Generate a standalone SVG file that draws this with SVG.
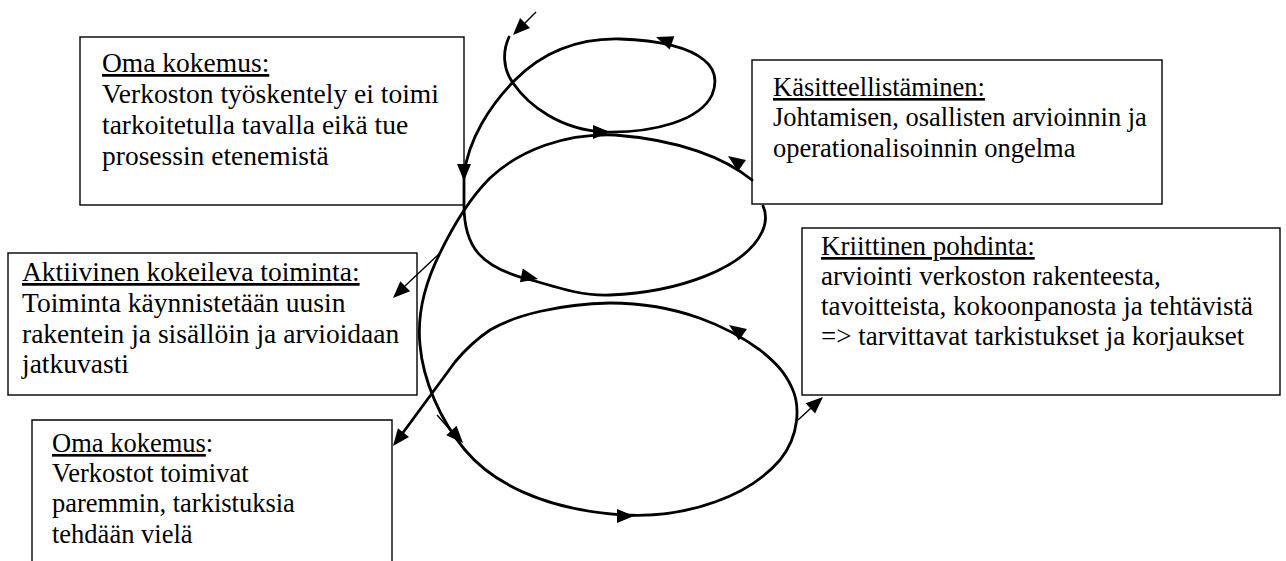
<svg xmlns="http://www.w3.org/2000/svg" width="1286" height="561" viewBox="0 0 1286 561">
<style>
.box{fill:#fff;stroke:#000;stroke-width:1.4}
.t{font-family:"Liberation Serif","Times New Roman",serif;font-size:26.5px;fill:#000}
.big{font-size:27.5px}
.mid{font-size:27px}
.u{text-decoration:underline}
.sp{fill:none;stroke:#000;stroke-width:2.8;stroke-linecap:round;stroke-linejoin:round}
.thin{fill:none;stroke:#000;stroke-width:1.4}
</style>
<defs>
<path id="ah" d="M0,0 L-17,-7 L-17,7 Z" fill="#000"/>
</defs>
<rect width="1286" height="561" fill="#fff"/>
<g id="n1">
<rect class="box" x="80" y="37" width="384" height="168"/>
<text class="t big" x="102" y="72"><tspan class="u">Oma kokemus:</tspan></text>
<text class="t big" x="102" y="103">Verkoston työskentely ei toimi</text>
<text class="t big" x="102" y="134">tarkoitetulla tavalla eikä tue</text>
<text class="t big" x="102" y="165">prosessin etenemistä</text>
</g>
<g id="n2">
<rect class="box" x="752" y="60" width="410" height="144"/>
<text class="t" x="773" y="96"><tspan class="u">Käsitteellistäminen:</tspan></text>
<text class="t" x="773" y="126">Johtamisen, osallisten arvioinnin ja</text>
<text class="t" x="773" y="157">operationalisoinnin ongelma</text>
</g>
<g id="n3">
<rect class="box" x="8" y="253" width="409" height="142"/>
<text class="t big" x="22" y="281"><tspan class="u">Aktiivinen kokeileva toiminta:</tspan></text>
<text class="t big" x="22" y="312">Toiminta käynnistetään uusin</text>
<text class="t big" x="22" y="343">rakentein ja sisällöin ja arvioidaan</text>
<text class="t big" x="22" y="373">jatkuvasti</text>
</g>
<g id="n4">
<path class="box" d="M32,561 V420 H392 V561"/>
<text class="t" x="52" y="452"><tspan class="u">Oma kokemus</tspan>:</text>
<text class="t" x="52" y="482">Verkostot toimivat</text>
<text class="t" x="52" y="512">paremmin, tarkistuksia</text>
<text class="t" x="52" y="543">tehdään vielä</text>
</g>
<g id="n5">
<rect class="box" x="802" y="228" width="478" height="167"/>
<text class="t mid" x="821" y="255"><tspan class="u">Kriittinen pohdinta:</tspan></text>
<text class="t mid" x="821" y="285">arviointi verkoston rakenteesta,</text>
<text class="t mid" x="821" y="315">tavoitteista, kokoonpanosta ja tehtävistä</text>
<text class="t mid" x="821" y="345">=&gt; tarvittavat tarkistukset ja korjaukset</text>
</g>
<g id="connectors">
<path class="thin" d="M536,12 L524,24"/>
<path class="sp" d="M509,37 C503,50 502,68 513,83 C528,105 560,130 605,132 C655,133 700,120 712,95 C718,80 714,68 704,60 C690,48 660,40 620,39 C575,38 540,55 515,80 C490,105 468,140 464,175 L464,205 C464,245 478,268 535,281 C565,290 585,296 610,295 C680,292 745,268 762,232 C767,222 766,212 763,206"/>
<path class="sp" d="M752,180 C725,158 680,140 615,135 C565,133 520,150 490,178 C470,198 455,222 440,253 C425,283 417,315 420,345 C423,380 440,420 465,450 C490,480 540,510 625,515 C690,518 750,495 780,460 C800,435 800,405 792,388 C785,372 775,362 760,350 C730,328 680,303 610,303 C560,304 515,315 490,330 C475,340 465,350 455,362 L402,434"/>
<path class="thin" d="M440,253 L405,286"/>
<path class="thin" d="M437,415 L452,432"/>
<path class="thin" d="M798,420 L811,408"/>
<use href="#ah" transform="translate(513,35) rotate(135)"/>
<use href="#ah" transform="translate(610,132) rotate(0)"/>
<use href="#ah" transform="translate(656,37) rotate(200)"/>
<use href="#ah" transform="translate(464,181) rotate(90)"/>
<use href="#ah" transform="translate(538,279) rotate(12)"/>
<use href="#ah" transform="translate(728,156) rotate(215)"/>
<use href="#ah" transform="translate(393,298) rotate(136)"/>
<use href="#ah" transform="translate(463,443) rotate(47)"/>
<use href="#ah" transform="translate(634,516) rotate(0)"/>
<use href="#ah" transform="translate(729,325) rotate(215)"/>
<use href="#ah" transform="translate(823,397) rotate(-42)"/>
<use href="#ah" transform="translate(393,446) rotate(128)"/>
</g>
</svg>
